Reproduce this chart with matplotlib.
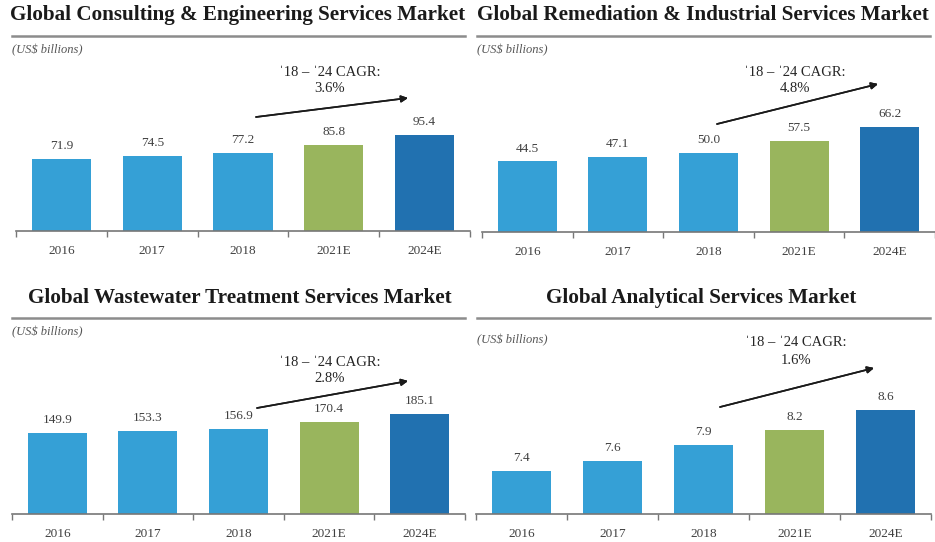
import matplotlib.pyplot as plt
import numpy as np

# chart data
years = ['2016', '2017', '2018', '2021E', '2024E']
consulting = [71.9, 74.5, 77.2, 85.8, 95.4]
remediation = [44.5, 47.1, 50.0, 57.5, 66.2]
wastewater = [149.9, 153.3, 156.9, 170.4, 185.1]
analytical = [7.4, 7.6, 7.9, 8.2, 8.6]
titles = ['Global Consulting & Engineering Services Market',
          'Global Remediation & Industrial Services Market',
          'Global Wastewater Treatment Services Market',
          'Global Analytical Services Market']
cagr = ['3.6%', '4.8%', '2.8%', '1.6%']

plt.rcParams['font.family'] = ['Liberation Serif', 'DejaVu Serif']

W, H = 935, 542
fig = plt.figure(figsize=(W / 100, H / 100), dpi=100)

def fx(x):
    return x / W

def fy(y):
    return 1 - y / H

colors = ['#35a0d6', '#35a0d6', '#35a0d6', '#99b55d', '#2171b0']

# layout in pixels: axis left, right, baseline, px per unit, ymin
panels = [
    dict(vals=consulting, left=16, right=470, base=231, scale=1.005, ymin=0,
         title_x=238, title_y=15, rule=(12, 465, 36), unit=(12, 50),
         txt=(330, 72, 88), arrow=((256, 117), (408, 98))),
    dict(vals=remediation, left=482, right=935, base=232, scale=1.585, ymin=0,
         title_x=703, title_y=15, rule=(477, 930, 36), unit=(477, 50),
         txt=(795, 72, 88), arrow=((717, 124), (878, 84))),
    dict(vals=wastewater, left=12, right=465, base=514, scale=0.54, ymin=0,
         title_x=240, title_y=298, rule=(12, 465, 318), unit=(12, 332),
         txt=(330, 362, 379), arrow=((257, 408), (408, 381))),
    dict(vals=analytical, left=476, right=931, base=514, scale=50.8, ymin=6.55,
         title_x=701, title_y=298, rule=(477, 930, 318), unit=(477, 340),
         txt=(796, 343, 360), arrow=((720, 407), (874, 368))),
]

axh = 150
x = np.arange(len(years))
for p, title, rate in zip(panels, titles, cagr):
    ax = fig.add_axes([fx(p['left']), fy(p['base']), (p['right'] - p['left']) / W, axh / H])
    bars = ax.bar(x, p['vals'], width=0.65, color=colors)
    ax.set_xlim(-0.5, len(years) - 0.5)
    ax.set_ylim(p['ymin'], p['ymin'] + axh / p['scale'])
    ax.bar_label(bars, fmt='%.1f', padding=5, fontsize=9.5, color='#404040')
    for s in ['top', 'right', 'left']:
        ax.spines[s].set_visible(False)
    ax.spines['bottom'].set_color('#777777')
    ax.spines['bottom'].set_linewidth(1.2)
    ax.set_yticks([])
    ax.set_xticks(x)
    ax.set_xticklabels(years, fontsize=9.5, color='#404040')
    ax.set_xticks(np.arange(-0.5, len(years)), minor=True)
    ax.tick_params(axis='x', which='major', length=0, pad=10)
    ax.tick_params(axis='x', which='minor', length=4, color='#777777', width=1)

    fig.text(fx(p['title_x']), fy(p['title_y']), title, ha='center', va='center',
             fontsize=15.2, fontweight='bold', color='#1a1a1a')
    x0, x1, ry = p['rule']
    fig.add_artist(plt.Line2D([fx(x0), fx(x1)], [fy(ry), fy(ry)], color='#8c8c8c', lw=1.8))
    fig.text(fx(p['unit'][0]), fy(p['unit'][1]), '(US$ billions)', ha='left', va='center',
             fontsize=9, style='italic', color='#555555')
    tx, ty1, ty2 = p['txt']
    fig.text(fx(tx), fy(ty1), '\u02c818 \u2013 \u02c824 CAGR:', ha='center', va='center',
             fontsize=10.5, color='#262626')
    fig.text(fx(tx), fy(ty2), rate, ha='center', va='center', fontsize=10.5, color='#262626')
    (ax0, ay0), (ax1, ay1) = p['arrow']
    fig.add_artist(plt.annotate('', xy=(fx(ax1), fy(ay1)), xytext=(fx(ax0), fy(ay0)),
                                xycoords='figure fraction', textcoords='figure fraction',
                                arrowprops=dict(arrowstyle='-|>', color='#1a1a1a', lw=1.2,
                                                mutation_scale=10, shrinkA=0, shrinkB=0)))

plt.savefig('out.png', dpi=100)
plt.close()
